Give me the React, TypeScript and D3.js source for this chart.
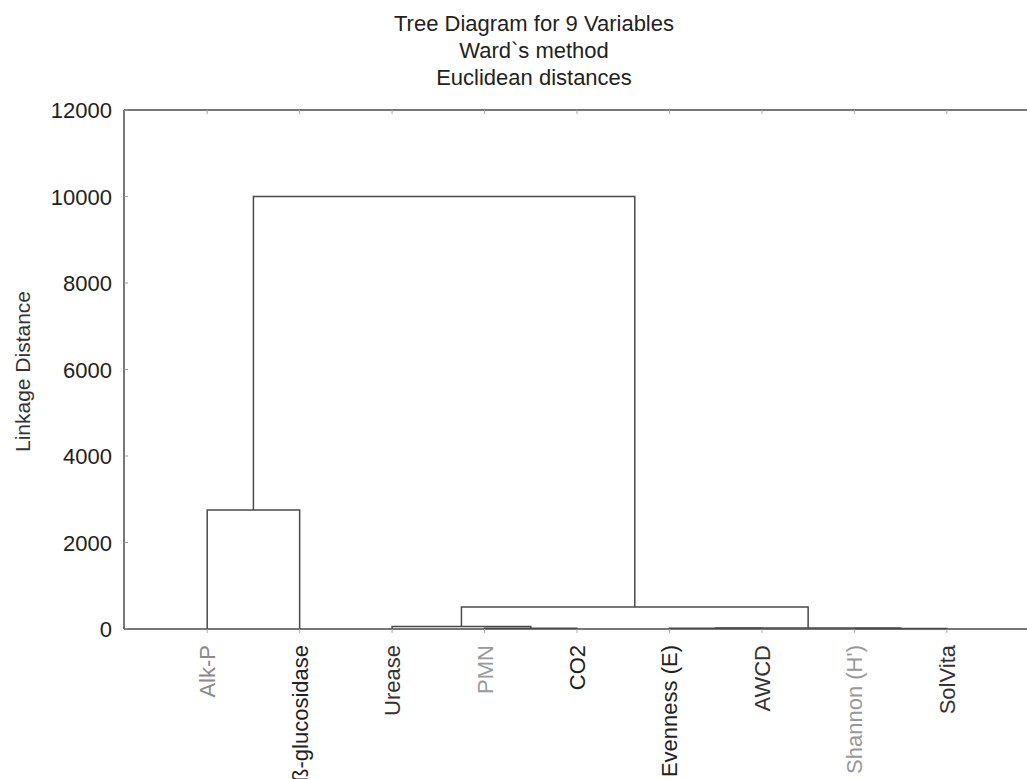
import React, { useEffect, useRef } from 'react'
import * as d3 from 'd3'

const titleLines = ['Tree Diagram for 9 Variables', 'Ward`s method', 'Euclidean distances']
const yLabel = 'Linkage Distance'

// leaf order along the x axis
const leaves = ['Alk-P', 'ß-glucosidase', 'Urease', 'PMN', 'CO2', 'Evenness (E)', 'AWCD', "Shannon (H')", 'SolVita']
const leafColors = ['#8a8a8a', '#222', '#333', '#999', '#222', '#222', '#333', '#999', '#333']

// merges: [left child, right child, linkage distance]
// children < 0 point to leaves (-1 = first leaf), >= 0 point to earlier merges
const merges = [
    [-4, -5, 20],      // 0: PMN + CO2
    [-3, 0, 60],       // 1: Urease + (PMN, CO2)
    [-6, -7, 15],      // 2: Evenness + AWCD
    [-8, -9, 10],      // 3: Shannon + SolVita
    [2, 3, 25],        // 4
    [1, 4, 510],       // 5
    [-1, -2, 2750],    // 6: Alk-P + ß-glucosidase
    [6, 5, 10000],     // 7: top
]

const yTicks = [0, 2000, 4000, 6000, 8000, 10000, 12000]

const App = () => {
    const Chart = useRef(null)
    const width = 1027
    const height = 779

    useEffect(() => {
        const svg = d3.select(Chart.current)
        svg.selectAll('*').remove()

        const font = '"Liberation Sans", Arial, sans-serif'
        const line = '#4a4a4a'

        const x = d3.scaleLinear().domain([0.1, 9.9]).range([124, 1030])
        const y = d3.scaleLinear().domain([0, 12000]).range([629, 110])

        // title
        svg.append('g')
            .selectAll('text')
            .data(titleLines)
            .join('text')
            .text(d => d)
            .attr('x', 534)
            .attr('y', (d, i) => 31 + i * 27)
            .attr('text-anchor', 'middle')
            .attr('fill', '#222')
            .style('font-family', font)
            .style('font-size', '22px')

        // frame: left axis, top border, baseline
        svg.append('line')
            .attr('x1', x(0.1)).attr('x2', x(0.1))
            .attr('y1', y(12000)).attr('y2', y(0))
            .attr('stroke', line).attr('stroke-width', 1.5)
        svg.append('line')
            .attr('x1', x(0.1)).attr('x2', width)
            .attr('y1', y(12000)).attr('y2', y(12000))
            .attr('stroke', line).attr('stroke-width', 1.5)
        svg.append('line')
            .attr('x1', x(0.1)).attr('x2', width)
            .attr('y1', y(0)).attr('y2', y(0))
            .attr('stroke', line).attr('stroke-width', 1.5)

        // y ticks (inside) and labels
        const yAxis = svg.append('g')
        yAxis.selectAll('line')
            .data(yTicks)
            .join('line')
            .attr('x1', x(0.1)).attr('x2', x(0.1) + 4)
            .attr('y1', d => y(d)).attr('y2', d => y(d))
            .attr('stroke', '#999')
        yAxis.selectAll('text')
            .data(yTicks)
            .join('text')
            .text(d => d)
            .attr('x', 112)
            .attr('y', d => y(d) + 8)
            .attr('text-anchor', 'end')
            .attr('fill', '#222')
            .style('font-family', font)
            .style('font-size', '22px')

        svg.append('text')
            .text(yLabel)
            .attr('transform', `translate(30,${(y(0) + y(12000)) / 2 + 2}) rotate(-90)`)
            .attr('text-anchor', 'middle')
            .attr('fill', '#333')
            .style('font-family', font)
            .style('font-size', '21px')

        // leaf ticks on top and bottom
        const lx = leaves.map((d, i) => x(i + 1))
        svg.append('g')
            .selectAll('line')
            .data(lx)
            .join('line')
            .attr('x1', d => d).attr('x2', d => d)
            .attr('y1', y(12000)).attr('y2', y(12000) + 4)
            .attr('stroke', '#aaa')
        svg.append('g')
            .selectAll('line')
            .data(lx)
            .join('line')
            .attr('x1', d => d).attr('x2', d => d)
            .attr('y1', y(0)).attr('y2', y(0) + 4)
            .attr('stroke', '#aaa')

        // leaf labels
        svg.append('g')
            .selectAll('text')
            .data(leaves)
            .join('text')
            .text(d => d)
            .attr('transform', (d, i) => `translate(${x(i + 1) + 8},645) rotate(-90)`)
            .attr('text-anchor', 'end')
            .attr('fill', (d, i) => leafColors[i])
            .style('font-family', font)
            .style('font-size', '22px')

        // dendrogram links
        const nodeX = []
        const nodeH = []
        const pos = c => c < 0 ? [x(-c), 0] : [nodeX[c], nodeH[c]]
        const links = svg.append('g')
            .attr('fill', 'none')
            .attr('stroke', line)
            .attr('stroke-width', 1.5)
        merges.forEach(([a, b, h], i) => {
            const [ax, ah] = pos(a)
            const [bx, bh] = pos(b)
            nodeX[i] = (ax + bx) / 2
            nodeH[i] = h
            const path = d3.path()
            path.moveTo(ax, y(ah))
            path.lineTo(ax, y(h))
            path.lineTo(bx, y(h))
            path.lineTo(bx, y(bh))
            links.append('path').attr('d', path.toString())
        })
    })

    return (
        <div>
            <svg ref={Chart} width={width} height={height}
                style={{ position: 'absolute', left: 0, top: 0, display: 'block', background: '#fff' }}></svg>
        </div>
    )
}
export default App
